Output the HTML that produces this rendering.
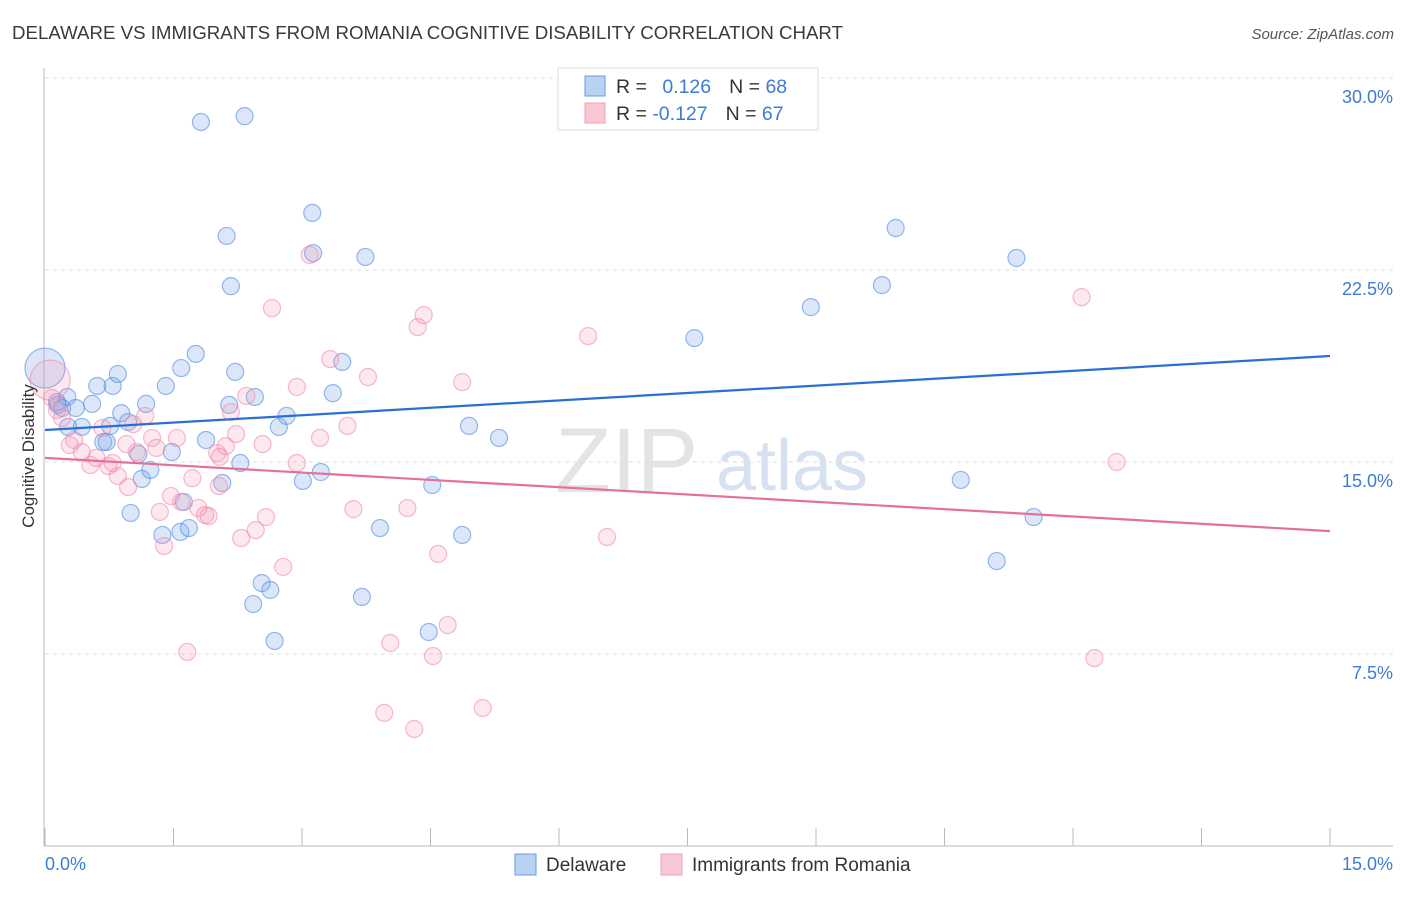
<!DOCTYPE html>
<html><head><meta charset="utf-8">
<style>
body{margin:0;background:#fff;font-family:"Liberation Sans",sans-serif;}
svg text{font-family:"Liberation Sans",sans-serif;}
</style></head>
<body>
<svg id="chart" width="1406" height="892" xmlns="http://www.w3.org/2000/svg">
<text x="12" y="39" font-size="18.6" fill="#3a3a3a" textLength="831" lengthAdjust="spacingAndGlyphs">DELAWARE VS IMMIGRANTS FROM ROMANIA COGNITIVE DISABILITY CORRELATION CHART</text>
<text x="1394" y="39" font-size="15" fill="#555" font-style="italic" text-anchor="end">Source: ZipAtlas.com</text>
<g>
<text x="555" y="492" font-size="92" fill="#e4e4e4" font-family="Liberation Serif">ZIP</text>
<text x="716" y="490" font-size="72" fill="#d6e2f2">atlas</text>
</g>
<g id="grid"></g>
<g id="axes"></g>
<g id="marks"></g>
<text transform="translate(34,456) rotate(-90)" font-size="17" fill="#333" text-anchor="middle">Cognitive Disability</text>
<text x="45" y="870" font-size="18" fill="#3d7bd6">0.0%</text>
<text x="1393" y="870" font-size="18" fill="#3d7bd6" text-anchor="end">15.0%</text>
<g>
<rect x="558" y="68" width="260" height="62" fill="#fff" stroke="#ddd"/>
<rect x="585" y="76" width="20" height="20" fill="#b8d2f4" stroke="#6a9be0"/>
<rect x="585" y="103" width="20" height="20" fill="#f9c6d4" stroke="#f0a0b8"/>
<text x="616" y="93" font-size="19.5" fill="#333">R = <tspan fill="#3d7bd6" dx="10">0.126</tspan><tspan dx="18">N = </tspan><tspan fill="#3d7bd6">68</tspan></text>
<text x="616" y="120" font-size="19.5" fill="#333">R = <tspan fill="#3d7bd6">-0.127</tspan><tspan dx="18">N = </tspan><tspan fill="#3d7bd6">67</tspan></text>
</g>
<g>
<rect x="515" y="854" width="21" height="21" fill="#b8d2f4" stroke="#6a9be0"/>
<text x="546" y="871" font-size="19" fill="#333">Delaware</text>
<rect x="661" y="854" width="21" height="21" fill="#f9c6d4" stroke="#f0a0b8"/>
<text x="692" y="871" font-size="19" fill="#333">Immigrants from Romania</text>
</g>
</svg>
<script>
const blueX=[0.00,0.14,0.20,0.26,0.36,0.27,0.43,0.55,0.61,0.68,0.72,0.79,0.85,0.89,0.97,1.00,1.09,1.13,1.18,1.23,1.41,1.48,1.37,1.58,1.62,1.68,1.59,1.76,1.82,1.88,2.07,2.12,2.17,2.22,2.28,2.33,2.43,2.45,2.53,2.63,2.68,2.73,2.82,3.01,3.12,3.13,3.22,3.36,3.47,3.70,3.74,3.91,4.48,4.52,4.87,4.95,5.30,7.58,8.94,9.77,9.93,10.69,11.11,11.34,11.54,0.15,0.76,2.15];
const blueY=[18.67,17.34,17.11,17.54,17.11,16.37,16.37,17.27,17.97,15.78,15.78,17.97,18.44,16.91,16.56,13.01,15.31,14.34,17.27,14.69,17.97,15.39,12.15,12.27,13.44,12.42,18.67,19.22,28.28,15.86,14.18,23.83,21.87,18.52,14.96,28.51,9.45,17.54,10.27,10.00,8.01,16.37,16.80,14.26,24.73,23.16,14.61,17.69,18.91,9.73,23.01,12.42,8.36,14.10,12.15,16.41,15.94,19.84,21.05,21.91,24.14,14.30,11.13,22.97,12.85,17.23,16.41,17.23];
const pinkX=[0.06,0.08,0.14,0.20,0.29,0.34,0.43,0.53,0.60,0.67,0.74,0.79,0.85,0.95,0.97,1.03,1.07,1.17,1.25,1.30,1.34,1.39,1.47,1.54,1.59,1.66,1.72,1.79,1.87,1.91,2.01,2.03,2.11,2.17,2.23,2.29,2.35,2.46,2.54,2.58,2.65,2.78,2.94,2.94,3.09,3.21,3.33,3.53,3.60,3.77,3.96,4.03,4.23,4.31,4.35,4.42,4.53,4.59,4.70,4.87,5.11,6.34,6.56,12.10,12.25,12.51,2.04];
const pinkY=[18.20,17.50,17.03,16.72,15.66,15.86,15.39,14.88,15.16,16.33,14.84,14.96,14.45,15.70,14.02,16.48,15.39,16.80,15.94,15.55,13.05,11.72,13.67,15.94,13.44,7.58,14.37,13.20,12.93,12.89,15.35,14.06,15.62,16.95,16.09,12.03,17.58,12.34,15.70,12.85,21.01,10.90,17.93,14.96,23.09,15.94,19.02,16.41,13.16,18.32,5.20,7.93,13.20,4.57,20.27,20.74,7.42,11.41,8.63,18.12,5.39,19.92,12.07,21.44,7.34,15.00,15.20];
const blueTrend=[16.25,19.14];
const pinkTrend=[15.16,12.30];
const yTicks=[7.5,15.0,22.5,30.0];
const yTickLabels=["7.5%","15.0%","22.5%","30.0%"];
const xTicks=[0,1.5,3,4.5,6,7.5,9,10.5,12,13.5,15];

const NS="http://www.w3.org/2000/svg";
const X0=45,X1=1330,Y0=846,Y1=78;
const sx=v=>X0+(v/15)*(X1-X0);
const sy=v=>Y0-(v/30)*(Y0-Y1);
function mk(parent,tag,attrs){const e=document.createElementNS(NS,tag);for(const k in attrs)e.setAttribute(k,attrs[k]);parent.appendChild(e);return e;}
const grid=document.getElementById('grid'),axes=document.getElementById('axes'),marks=document.getElementById('marks');
yTicks.forEach((t,i)=>{
  const l=mk(grid,'line',{x1:45,x2:1393,y1:sy(t),y2:sy(t),stroke:'#ddd','stroke-dasharray':'4,4'});
  
  
  const tx=mk(grid,'text',{x:1393,y:sy(t)+25,'font-size':18,fill:'#3d7bd6','text-anchor':'end'});
  tx.textContent=yTickLabels[i];
  
  
});
const ya=mk(axes,'line',{x1:44,x2:44,y1:68,y2:846,stroke:'#bbb'});


const xa=mk(axes,'line',{x1:44,x2:1393,y1:846,y2:846,stroke:'#bbb'});


xTicks.forEach(t=>{
  const l=mk(axes,'line',{x1:sx(t),x2:sx(t),y1:828,y2:846,stroke:'#bbb'});
  
  
});
function pts(xs,ys,fill,stroke,name){
  xs.forEach((x,i)=>{
    const r=(i===0)?20:8.5;
    const c=mk(marks,'circle',{cx:sx(x),cy:sy(ys[i]),r:r,fill:fill,stroke:stroke,'stroke-width':1.2});
    
    
  });
}
pts(blueX,blueY,'rgba(110,160,230,0.25)','rgba(80,140,225,0.6)','delaware-point');
pts(pinkX,pinkY,'rgba(245,150,180,0.22)','rgba(238,130,165,0.55)','romania-point');
const bl=mk(marks,'line',{x1:sx(0),x2:sx(15),y1:sy(blueTrend[0]),y2:sy(blueTrend[1]),stroke:'#2a6fd6','stroke-width':2.2});


const pl=mk(marks,'line',{x1:sx(0),x2:sx(15),y1:sy(pinkTrend[0]),y2:sy(pinkTrend[1]),stroke:'#e5709a','stroke-width':2.2});


</script>
</body></html>
